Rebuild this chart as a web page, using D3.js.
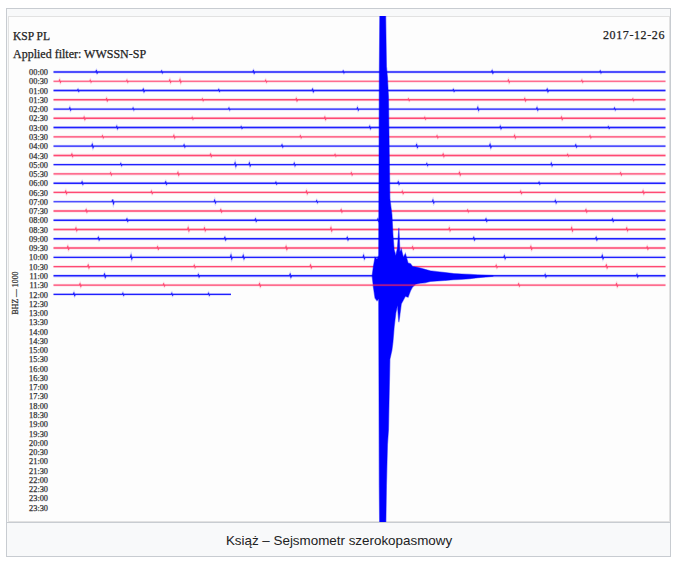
<!DOCTYPE html>
<html>
<head>
<meta charset="utf-8">
<script src="https://cdn.jsdelivr.net/npm/d3@7"></script>
<style>
  html, body { margin: 0; padding: 0; background: #ffffff; }
  svg { display: block; }
</style>
</head>
<body>
<div id="chart"></div>
<script>
// ---------------- DATA ----------------
const station = "KSP PL";
const filterLabel = "Applied filter: WWSSN-SP";
const dateLabel = "2017-12-26";
const channelLabel = "BHZ — 1000";
const caption = "Książ – Sejsmometr szerokopasmowy";

const rowLabels = ["00:00","00:30","01:00","01:30","02:00","02:30","03:00","03:30",
  "04:00","04:30","05:00","05:30","06:00","06:30","07:00","07:30","08:00","08:30",
  "09:00","09:30","10:00","10:30","11:00","11:30","12:00","12:30","13:00","13:30",
  "14:00","14:30","15:00","15:30","16:00","16:30","17:00","17:30","18:00","18:30",
  "19:00","19:30","20:00","20:30","21:00","21:30","22:00","22:30","23:00","23:30"];

// minutes recorded in each traced row (30 = full half-hour)
const traceEnd = [30,30,30,30,30,30,30,30,30,30,30,30,30,30,30,30,30,30,30,30,30,30,30,30,8.7];
// background noise level per row (0..1)
const noiseLevel = [0.9,0.35,0.9,0.8,0.35,0.8,0.9,0.35,0.6,0.85,0.4,0.6,0.9,0.6,0.4,0.85,
  0.85,0.6,0.9,0.8,0.6,0.6,0.9,0.6,0.6];
// small spikes per row: [minute, amplitude in row units]
const spikes = [
  [[2.1,.2],[5.3,.15],[9.8,.2],[14.2,.15],[21.5,.2],[26.8,.15]],
  [[0.3,.25],[1.8,.2],[3.6,.2],[5.7,.25],[6.2,.3],[10.4,.2],[16.1,.2],[22.3,.25],[25.9,.2]],
  [[1.2,.15],[4.4,.2],[8.1,.15],[12.7,.2],[19.6,.15],[24.2,.2]],
  [[2.6,.2],[7.3,.15],[11.9,.2],[17.4,.15],[23.1,.2],[28.4,.15]],
  [[0.8,.25],[3.9,.2],[8.6,.2],[14.9,.25],[20.8,.3],[23.7,.25],[27.5,.2]],
  [[1.5,.2],[6.8,.15],[13.3,.2],[18.2,.15],[24.9,.2]],
  [[3.1,.2],[9.2,.15],[15.5,.2],[21.9,.2],[27.2,.15]],
  [[2.4,.2],[5.9,.25],[12.1,.2],[18.8,.2],[22.6,.25],[26.3,.2]],
  [[1.9,.3],[6.4,.2],[11.2,.2],[17.8,.25],[21.4,.3],[25.6,.2]],
  [[0.9,.2],[7.7,.2],[13.8,.15],[19.1,.2],[25.2,.15]],
  [[3.3,.2],[8.9,.35],[9.6,.3],[11.8,.25],[18.3,.2],[24.4,.25]],
  [[2.8,.2],[6.1,.25],[14.6,.2],[19.9,.25],[27.8,.2]],
  [[1.4,.2],[5.5,.2],[10.9,.15],[16.9,.2],[23.8,.15]],
  [[0.6,.25],[4.8,.2],[12.4,.25],[17.1,.2],[22.9,.2],[28.9,.25]],
  [[2.9,.45],[7.9,.3],[12.9,.2],[18.6,.3],[24.6,.25]],
  [[1.6,.2],[8.2,.2],[14.1,.2],[20.3,.15],[26.1,.2]],
  [[3.6,.2],[9.9,.2],[15.9,.2],[21.2,.2],[27.4,.2]],
  [[1.1,.25],[6.6,.3],[7.4,.25],[13.6,.3],[19.4,.25],[25.4,.3],[28.1,.25]],
  [[2.2,.2],[8.4,.2],[14.4,.2],[20.6,.2],[26.6,.2]],
  [[0.7,.25],[5.1,.2],[11.4,.25],[17.6,.2],[23.4,.25],[29.1,.2]],
  [[3.8,.35],[8.7,.35],[9.3,.3],[15.2,.3],[22.1,.25],[26.9,.3]],
  [[1.7,.25],[6.9,.2],[12.6,.25],[21.7,.2],[27.1,.25]],
  [[2.5,.25],[7.1,.2],[11.6,.25],[24.1,.2],[28.6,.2]],
  [[1.3,.25],[5.4,.2],[10.1,.25],[22.8,.2],[27.6,.25]],
  [[1.0,.25],[3.4,.2],[5.8,.2],[7.6,.2]]
];

// earthquake record on the 11:00 trace: [minute, amplitude up, amplitude down] (row units)
const quakeRow = 22;
const quake = [
  [15.62,0,0],[15.68,1.0,1.2],[15.76,2.0,2.4],[15.86,1.8,2.7],[15.94,2.2,2.5],
  [15.97,20.8,22.6],[16.00,30,30],[16.27,30,30],[16.32,22.6,22.6],[16.37,21.4,18.2],
  [16.42,19.3,16.6],[16.49,8.3,9.0],[16.59,6.6,8.0],[16.64,4.4,7.1],[16.70,2.8,5.5],
  [16.78,2.2,4.0],[16.86,3.0,3.2],[16.93,5.2,5.0],[16.98,2.6,4.2],[17.05,2.9,3.0],
  [17.15,2.0,2.6],[17.25,2.4,2.2],[17.38,1.4,2.3],[17.5,1.3,1.6],[17.6,1.0,1.2],
  [17.75,0.95,0.9],[17.97,0.85,0.8],[18.2,0.7,0.75],[18.46,0.55,0.6],[18.8,0.45,0.55],
  [19.19,0.35,0.5],[19.6,0.25,0.42],[20.0,0.2,0.38],[20.4,0.15,0.3],[20.8,0.1,0.2],
  [21.2,0.05,0.12],[21.54,0.02,0.05]
];

const traceColors = ["#0000ff", "#ff2456"];

// ---------------- DRAW ----------------
const W = 677, H = 566;
const svg = d3.select("#chart").append("svg").attr("width", W).attr("height", H);

// figure frame (thumbnail box)
svg.append("rect").attr("x", 6.5).attr("y", 8.5).attr("width", 664).attr("height", 548)
  .attr("fill", "#f8f9fa").attr("stroke", "#c8ccd1");
const img = { x: 8, y: 16, w: 662, h: 506 };
svg.append("rect").attr("x", img.x + 0.5).attr("y", img.y + 0.5).attr("width", img.w - 1).attr("height", img.h - 1)
  .attr("fill", "#fdfdfd").attr("stroke", "#e2e2e2");
svg.append("line").attr("x1", 6.5).attr("x2", 670.5).attr("y1", img.y + img.h + 0.5).attr("y2", img.y + img.h + 0.5)
  .attr("stroke", "#c8ccd1");

svg.append("defs").append("clipPath").attr("id", "imgclip")
  .append("rect").attr("x", img.x).attr("y", img.y).attr("width", img.w).attr("height", img.h);

// scales
const x = d3.scaleLinear().domain([0, 30]).range([53.5, 665.5]);
const y = d3.scalePoint().domain(rowLabels).range([72, 507.5]);
const rowStep = y.step();
const amp = d3.scaleLinear().domain([0, 1]).range([0, rowStep]);
const sw = d3.scaleLinear().domain([0, 1]).range([0.9, 1.6]);

// header texts
const serif = "'Liberation Serif', 'Times New Roman', serif";
function header(xp, yp, txt, anchor, size, ls) {
  svg.append("text").attr("x", xp).attr("y", yp).attr("text-anchor", anchor).text(txt)
    .attr("font-family", serif).attr("font-size", size).attr("letter-spacing", ls)
    .attr("fill", "#222").attr("stroke", "#222").attr("stroke-width", 0.25);
}
header(13, 39.5, station, "start", 11.5, 0);
header(13, 57.5, filterLabel, "start", 12, 0);
header(665, 38.5, dateLabel, "end", 12, 0.6);

// time axis on the left
const axis = d3.axisLeft(y).tickSize(0).tickPadding(0);
const gAxis = svg.append("g").attr("transform", "translate(48,0)").call(axis);
gAxis.select(".domain").remove();
gAxis.selectAll("text").attr("font-family", serif).attr("font-size", 8.3)
  .attr("fill", "#333").attr("stroke", "#333").attr("stroke-width", 0.25).attr("dy", "0.32em");

// channel label
svg.append("text").attr("transform", "translate(18,293) rotate(-90)").attr("text-anchor", "middle")
  .attr("font-family", serif).attr("font-size", 7.8).attr("fill", "#333").attr("stroke", "#333")
  .attr("stroke-width", 0.25).text(channelLabel);

const plot = svg.append("g").attr("clip-path", "url(#imgclip)");

const line = d3.line().x(d => x(d[0])).y(d => d[1]);

function tracePoints(i) {
  const base = y(rowLabels[i]);
  const pts = [[0, base]];
  spikes[i].filter(s => s[0] < traceEnd[i]).forEach(s => {
    pts.push([s[0] - 0.03, base]);
    pts.push([s[0], base - amp(s[1] * 0.5)]);
    pts.push([s[0] + 0.04, base + amp(s[1] * 0.4)]);
    pts.push([s[0] + 0.07, base]);
  });
  pts.push([traceEnd[i], base]);
  return pts;
}

const traceIdx = d3.range(traceEnd.length);
const lateRows = [quakeRow + 1];

function drawTrace(i) {
  const d = line(tracePoints(i));
  plot.append("path").attr("d", d)
    .attr("fill", "none")
    .attr("stroke", traceColors[i % 2])
    .attr("stroke-opacity", 0.15)
    .attr("stroke-width", sw(noiseLevel[i]) + 1.6);
  plot.append("path").attr("d", d)
    .attr("fill", "none")
    .attr("stroke", traceColors[i % 2])
    .attr("stroke-opacity", i % 2 ? 0.8 : 0.85)
    .attr("stroke-width", sw(noiseLevel[i]));
}
traceIdx.filter(i => !lateRows.includes(i)).forEach(drawTrace);

// earthquake
const base = y(rowLabels[quakeRow]);
const area = d3.area().x(d => x(d[0]))
  .y0(d => base + amp(d[2]))
  .y1(d => base - amp(d[1]));
plot.append("path").datum(quake).attr("d", area)
  .attr("fill", traceColors[0]).attr("stroke", traceColors[0]).attr("stroke-opacity", 0.45)
  .attr("stroke-width", 1.2);

lateRows.forEach(drawTrace);

// caption
svg.append("text").attr("x", 339).attr("y", 545).attr("text-anchor", "middle")
  .attr("font-family", "'Liberation Sans', Arial, sans-serif").attr("font-size", 13.4)
  .attr("fill", "#202122").text(caption);
</script>
</body>
</html>
